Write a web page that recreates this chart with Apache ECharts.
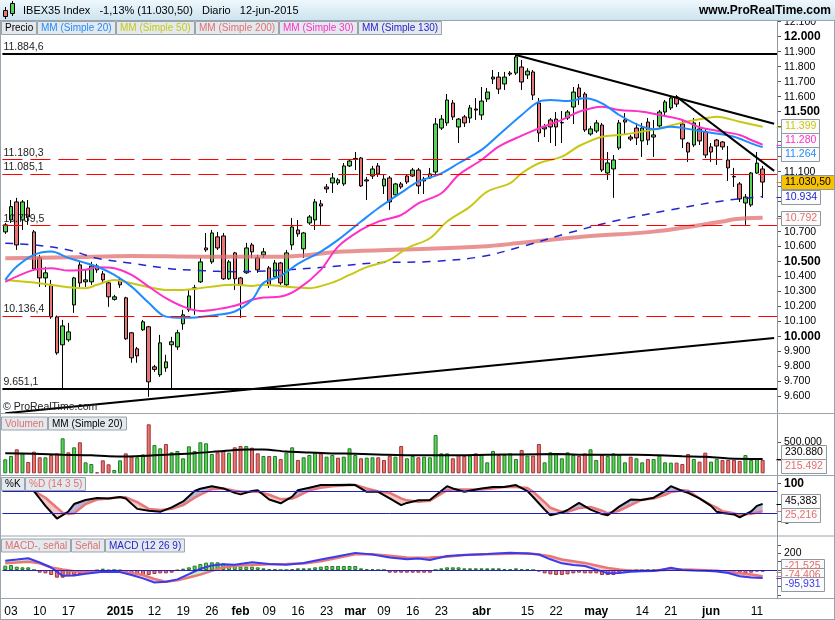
<!DOCTYPE html>
<html>
<head>
<meta charset="utf-8">
<script src="https://cdn.jsdelivr.net/npm/echarts@6/dist/echarts.min.js"></script>
<style>
  html, body { margin: 0; padding: 0; background: #fff; }
  #main { width: 835px; height: 620px; }
</style>
</head>
<body>
<div id="main"></div>
<script>
// trading days (two empty days at the end keep the right margin)
const dates = [
  '2014-12-02','2014-12-03','2014-12-04','2014-12-05','2014-12-08','2014-12-09','2014-12-10','2014-12-11','2014-12-12',
  '2014-12-15','2014-12-16','2014-12-17','2014-12-18','2014-12-19','2014-12-22','2014-12-23','2014-12-24','2014-12-29',
  '2014-12-30','2014-12-31',
  '2015-01-02','2015-01-05','2015-01-06','2015-01-07','2015-01-08','2015-01-09','2015-01-12','2015-01-13','2015-01-14',
  '2015-01-15','2015-01-16','2015-01-19','2015-01-20','2015-01-21','2015-01-22','2015-01-23','2015-01-26','2015-01-27',
  '2015-01-28','2015-01-29','2015-01-30',
  '2015-02-02','2015-02-03','2015-02-04','2015-02-05','2015-02-06','2015-02-09','2015-02-10','2015-02-11','2015-02-12',
  '2015-02-13','2015-02-16','2015-02-17','2015-02-18','2015-02-19','2015-02-20','2015-02-23','2015-02-24','2015-02-25',
  '2015-02-26','2015-02-27',
  '2015-03-02','2015-03-03','2015-03-04','2015-03-05','2015-03-06','2015-03-09','2015-03-10','2015-03-11','2015-03-12',
  '2015-03-13','2015-03-16','2015-03-17','2015-03-18','2015-03-19','2015-03-20','2015-03-23','2015-03-24','2015-03-25',
  '2015-03-26','2015-03-27','2015-03-30','2015-03-31',
  '2015-04-01','2015-04-02','2015-04-07','2015-04-08','2015-04-09','2015-04-10','2015-04-13','2015-04-14','2015-04-15',
  '2015-04-16','2015-04-17','2015-04-20','2015-04-21','2015-04-22','2015-04-23','2015-04-24','2015-04-27','2015-04-28',
  '2015-04-29','2015-04-30',
  '2015-05-04','2015-05-05','2015-05-06','2015-05-07','2015-05-08','2015-05-11','2015-05-12','2015-05-13','2015-05-14',
  '2015-05-15','2015-05-18','2015-05-19','2015-05-20','2015-05-21','2015-05-22','2015-05-25','2015-05-26','2015-05-27',
  '2015-05-28','2015-05-29',
  '2015-06-01','2015-06-02','2015-06-03','2015-06-04','2015-06-05','2015-06-08','2015-06-09','2015-06-10','2015-06-11',
  '2015-06-12','2015-06-15','2015-06-16'
];

const xLabelDates = ['2014-12-03','2014-12-10','2014-12-17','2015-01-02','2015-01-12','2015-01-19','2015-01-26',
  '2015-02-02','2015-02-09','2015-02-16','2015-02-23','2015-03-02','2015-03-09','2015-03-16','2015-03-23',
  '2015-04-01','2015-04-15','2015-04-22','2015-05-04','2015-05-14','2015-05-21','2015-06-01','2015-06-11'];
const xLabelTexts = ['03','10','17','2015','12','19','26','feb','09','16','23','mar','09','16','23',
  'abr','15','22','may','14','21','jun','11'];
const boldXLabels = ['2015','feb','mar','abr','may','jun'];

// [open, close, low, high]
const candles = [
  [10698,10745,10685,10758],[10778,10867,10758,10911],[10898,10611,10578,10925],[10778,10898,10711,10911],
  [10858,10798,10745,10911],[10698,10451,10438,10711],[10525,10391,10331,10545],[10391,10425,10331,10465],
  [10345,10131,10118,10378],[10131,9891,9878,10140],[9945,10071,9651,10111],[9978,10031,9965,10091],
  [10211,10391,10158,10398],[10478,10358,10331,10498],[10365,10378,10331,10445],[10365,10471,10345,10498],
  [10471,10445,10425,10485],[10418,10378,10358,10438],[10358,10265,10198,10365],[10248,10265,10240,10278],
  [10378,10345,10325,10398],[10258,9985,9978,10265],[10025,9858,9825,10031],[9918,9871,9825,9931],
  [10045,10098,10038,10111],[10065,9698,9598,10071],[9798,9781,9765,9811],[9745,9958,9731,10011],
  [9791,9831,9765,9878],[9945,9965,9645,9998],[9931,10025,9911,10045],[10085,10145,10045,10178],
  [10178,10271,10165,10311],[10318,10325,10145,10345],[10365,10498,10358,10525],[10591,10578,10565,10691],
  [10498,10691,10485,10711],[10665,10591,10578,10698],[10671,10385,10378,10691],[10385,10498,10378,10511],
  [10558,10385,10311,10565],[10391,10345,10125,10398],[10425,10591,10418,10625],[10611,10565,10525,10625],
  [10525,10445,10425,10545],[10545,10565,10525,10591],[10458,10345,10325,10471],[10398,10491,10385,10511],
  [10491,10358,10345,10498],[10345,10558,10331,10578],[10611,10731,10578,10791],[10711,10685,10665,10778],
  [10585,10691,10525,10698],[10758,10798,10745,10811],[10778,10898,10711,10918],[10885,10871,10745,10911],
  [10998,10985,10958,11018],[11025,11058,10958,11091],[11025,11045,11011,11058],[11018,11138,11005,11158],
  [11138,11171,11131,11185],[11185,11188,11111,11231],[11191,11005,10998,11198],[11045,11038,10911,11065],
  [11071,11118,11051,11138],[11138,11085,11065,11158],[11005,11051,10951,11078],[11058,10898,10845,11071],
  [10945,11018,10931,11025],[11018,10998,10985,11031],[11071,11031,11018,11078],[11071,11111,11065,11125],
  [11111,11005,10951,11125],[11038,11051,10951,11065],[11058,11085,11051,11125],[11098,11418,11085,11458],
  [11391,11451,11378,11478],[11425,11578,11405,11618],[11558,11465,11445,11578],[11398,11451,11291,11458],
  [11465,11425,11398,11478],[11458,11525,11425,11545],[11518,11511,11445,11591],[11478,11571,11445,11665],
  [11585,11631,11565,11658],[11718,11731,11685,11778],[11731,11651,11618,11765],[11685,11731,11645,11765],
  [11751,11758,11738,11771],[11758,11865,11745,11884.6],[11798,11698,11645,11845],[11745,11771,11718,11790],
  [11765,11611,11578,11778],[11558,11358,11298,11591],[11398,11385,11331,11418],[11445,11398,11291,11458],
  [11451,11398,11271,11498],[11425,11428,11291,11505],[11458,11498,11445,11511],[11531,11631,11418,11665],
  [11658,11598,11545,11685],[11618,11378,11365,11631],[11351,11385,11340,11405],[11371,11425,11358,11445],
  [11411,11111,11098,11425],[11091,11158,11045,11231],[11118,11178,10925,11211],[11258,11425,11245,11445],
  [11445,11431,11345,11491],[11331,11318,11305,11345],[11391,11325,11278,11425],[11305,11391,11198,11425],
  [11431,11311,11278,11458],[11331,11345,11198,11445],[11405,11498,11391,11511],[11498,11565,11478,11578],
  [11525,11591,11511,11605],[11598,11551,11531,11611],[11418,11318,11258,11445],[11291,11231,11165,11298],
  [11278,11425,11265,11458],[11385,11305,11278,11431],[11365,11211,11191,11391],[11265,11231,11165,11291],
  [11311,11271,11145,11318],[11298,11265,11245,11305],[11178,11125,11038,11271],[11065,11068,10998,11125],
  [11018,10918,10898,11031],[10891,10931,10745,10951],[10878,11091,10865,11098],[11091,11157,11085,11231],
  [11118,11030.5,10925,11138]
];

// moving averages: [index in dates] + value
const sma20Idx = [0,2,5,8,11,14,16,19,22,25,28,31,34,37,40,43,45,48,51,55,58,62,65,69,72,76,79,83,86,90,93,95,98,101,104,107,111,113,116,120,123,127,130,132];
const sma20Val = [10378,10467,10545,10567,10525,10491,10467,10411,10333,10225,10133,10125,10131,10145,10167,10245,10358,10405,10485,10567,10645,10767,10856,10960,11033,11089,11156,11245,11345,11478,11567,11578,11571,11589,11556,11478,11400,11383,11400,11378,11360,11333,11289,11264];
const sma30Idx = [0,5,8,11,14,16,19,22,25,28,31,34,37,40,43,45,48,51,55,58,62,65,69,72,76,79,83,86,90,93,97,100,104,107,111,114,118,121,124,128,130,132];
const sma30Val = [10365,10445,10456,10440,10445,10463,10456,10411,10333,10256,10200,10171,10183,10205,10245,10260,10267,10316,10445,10600,10711,10767,10811,10889,10956,11078,11178,11267,11340,11389,11445,11500,11533,11511,11500,11478,11445,11396,11373,11345,11311,11280];
const sma50Idx = [0,5,11,14,16,19,22,25,28,31,34,37,40,43,45,48,53,57,60,63,67,70,74,77,81,84,88,90,93,97,100,104,107,111,114,118,121,124,128,132];
const sma50Val = [10378,10360,10329,10323,10345,10378,10356,10329,10311,10311,10323,10338,10345,10338,10345,10336,10323,10360,10411,10463,10511,10589,10656,10767,10867,10967,11023,11089,11156,11200,11271,11333,11345,11367,11389,11427,11449,11467,11433,11399];
const sma200Idx = [0,11,22,34,48,59,71,83,90,101,113,125,127,132];
const sma200Val = [10522,10529,10538,10533,10533,10567,10583,10600,10625,10667,10700,10767,10783,10792];
const sma130Idx = [0,5,11,16,22,28,34,40,48,57,65,74,83,90,98,107,116,125,132];
const sma130Val = [10622,10611,10578,10522,10489,10456,10440,10433,10443,10467,10493,10500,10533,10600,10689,10778,10845,10905,10934];

// horizontal levels and trend lines
const blackLevels = [11884.6, 9651.1];
const redLevels = [11180.3, 11085.1, 10739.5, 10136.4];
const trendUp = [[0, 9488], [134, 9990]];
const trendDown1 = [[89, 11878], [134, 11420]];
const trendDown2 = [[117, 11600], [134, 11105]];

// volume (thousands)
const volume = [226,279,387,322,182,349,258,258,295,322,564,338,419,500,177,150,16,209,145,53,
  209,322,268,258,306,790,456,403,473,338,360,242,435,360,500,484,311,338,365,333,
  419,440,440,413,322,279,279,279,231,333,419,215,258,295,338,322,268,295,252,268,
  403,295,242,252,258,258,215,284,268,440,242,279,258,268,258,618,322,322,242,295,
  279,284,322,295,177,360,295,295,322,231,376,284,284,473,177,338,322,242,338,295,
  279,322,387,215,295,279,322,295,177,268,242,177,231,231,284,177,172,172,150,311,
  231,188,333,188,231,215,215,215,199,295,215,242,215.492];
const volMaIdx = [0,5,10,15,18,21,24,28,33,38,42,45,49,53,57,61,66,72,78,84,90,96,102,106,110,114,118,122,126,132];
const volMaVal = [322,315,300,290,275,270,280,300,325,360,385,385,350,335,320,315,300,290,290,300,305,310,300,300,300,290,275,265,240,230.88];

// stochastic %K / %D (14 3 5)
const stochIdx = [0,2,4,5,7,9,10,11,12,14,16,18,20,21,23,25,27,29,31,33,34,36,38,40,41,43,44,46,48,50,51,53,55,57,60,61,63,65,67,69,70,72,74,77,78,80,83,85,87,89,91,92,94,95,97,98,100,102,104,105,107,109,111,113,115,116,118,119,121,123,124,125,127,128,130,131,132];
const stochK = [92,95,85,80,40,6,15,25,45,56,61,60,64,60,32,27,24,36,52,80,86,93,87,75,71,80,82,57,47,65,82,89,96,96,97,96,78,78,60,42,48,55,56,93,87,78,87,91,91,96,80,64,30,15,22,29,48,30,18,15,38,57,56,62,80,93,80,75,60,40,24,21,17,9,25,40,45.383];
const stochD = [90,88,84,80,62,35,22,18,20,45,57,60,63,63,50,32,29,32,42,62,70,85,87,81,79,78,78,70,58,60,66,82,89,93,96,96,87,79,75,60,55,51,54,82,84,84,84,87,91,91,88,78,50,35,24,24,34,37,27,20,27,42,57,60,70,77,82,81,60,42,35,26,20,16,19,22,25.216];

// MACD (12 26 9)
const macdIdx = [0,2,4,6,8,10,12,14,17,20,22,24,26,28,30,32,34,36,38,40,43,46,49,52,55,58,61,64,67,70,72,74,77,80,84,88,91,93,95,97,99,101,103,105,107,109,111,113,115,116,118,120,122,124,126,128,130,132];
const macdVal = [112,125,140,90,30,-70,-65,-45,-20,-25,-60,-100,-150,-140,-112,-50,15,55,68,62,92,72,62,85,125,165,205,185,150,128,138,120,168,180,192,207,198,185,128,80,60,48,5,-40,-35,-20,-15,-12,12,28,0,-5,-8,-18,-35,-75,-90,-95.931];
const signalVal = [80,90,100,80,30,5,-15,-25,-20,-20,-35,-60,-108,-140,-122,-90,-55,-10,30,50,60,70,72,78,105,145,188,190,170,150,148,150,160,180,190,196,200,185,165,125,105,85,55,25,5,-8,-10,-8,0,8,6,2,-2,-10,-25,-40,-55,-74.406];
const macdHist = [52,60,40,32,32,0,-32,-40,-60,-92,-92,-72,-60,-48,-32,-24,-5,16,-5,0,
  -5,-32,-40,-52,-60,-60,-48,-40,-40,-32,-5,16,32,52,72,88,92,92,80,72,
  52,40,40,40,32,20,12,12,0,0,12,20,20,20,32,40,48,48,48,48,
  48,48,20,12,12,0,0,-32,-32,-32,-32,-32,-32,-32,-32,0,20,32,32,32,
  20,20,20,20,20,20,20,12,12,20,12,12,0,-20,-40,-52,-60,-60,-52,-40,
  -32,-40,-40,-40,-60,-60,-60,-32,-20,-8,0,0,4,8,12,20,20,12,0,-5,
  0,-5,-8,-8,-10,-12,-15,-20,-32,-40,-32,-20,-21.525];

const priceTicks = [9600,9700,9800,9900,10000,10100,10200,10300,10400,10500,10600,10700,10800,10900,11000,11100,11200,11300,11400,11500,11600,11700,11800,11900,12000,12100];
const boldPriceTicks = [10000, 10500, 11500, 12000];

const FONT = '"Liberation Sans", Arial, sans-serif';
const C = {
  up: '#55d455', down: '#e87676', upEdge: '#267a26', downEdge: '#a03434',
  sma20: '#1e8cff', sma50: '#c8c814', sma200: '#e07070', sma30: '#ff30c8', sma130: '#2424cc',
  salmon: '#e87878', blue: '#2222bb', frame: '#8e98a0'
};

function fmt(v, dec) {
  const s = Math.abs(v).toFixed(dec);
  const parts = s.split('.');
  const i = parts[0].replace(/\B(?=(\d{3})+(?!\d))/g, '.');
  return (v < 0 ? '-' : '') + i + (parts[1] ? ',' + parts[1] : '');
}
const last = a => a[a.length - 1];
const pairs = (idx, val) => idx.map((i, k) => [i, val[k]]);

const closes = candles.map(c => c[1]);
// volume colour: close against previous close
const volUp = closes.map((c, i) => i === 0 ? c >= candles[0][0] : c >= closes[i - 1]);

function barItem(v, up) {
  return { value: v, itemStyle: { color: up ? C.up : C.down, borderColor: up ? C.upEdge : C.downEdge, borderWidth: 1 } };
}

function maLine(idx, val, color, width, extra) {
  return Object.assign({
    type: 'line', xAxisIndex: 0, yAxisIndex: 0, data: pairs(idx, val), showSymbol: false,
    smooth: 0.35, silent: true, z: 4, lineStyle: { color: color, width: width }
  }, extra || {});
}

function trend(pts) {
  return { type: 'line', xAxisIndex: 0, yAxisIndex: 0, data: pts, showSymbol: false, silent: true, z: 6,
    lineStyle: { color: '#000', width: 2 } };
}

// coloured band between two lines
function band(idx, a, b, colA, colB, gi) {
  const data = [];
  for (let k = 0; k < idx.length - 1; k++) data.push([idx[k], a[k], b[k], idx[k + 1], a[k + 1], b[k + 1]]);
  return {
    type: 'custom', xAxisIndex: gi, yAxisIndex: gi, data: data, silent: true, z: 1,
    renderItem: function (params, api) {
      const pa0 = api.coord([api.value(0), api.value(1)]);
      const pb0 = api.coord([api.value(0), api.value(2)]);
      const pa1 = api.coord([api.value(3), api.value(4)]);
      const pb1 = api.coord([api.value(3), api.value(5)]);
      const d0 = api.value(1) - api.value(2), d1 = api.value(4) - api.value(5);
      if (d0 * d1 >= 0) {
        return { type: 'polygon', shape: { points: [pa0, pa1, pb1, pb0] },
          style: { fill: (d0 + d1) >= 0 ? colA : colB } };
      }
      const t = d0 / (d0 - d1);
      const pc = [pa0[0] + t * (pa1[0] - pa0[0]), pa0[1] + t * (pa1[1] - pa0[1])];
      return { type: 'group', children: [
        { type: 'polygon', shape: { points: [pa0, pc, pb0] }, style: { fill: d0 > 0 ? colA : colB } },
        { type: 'polygon', shape: { points: [pc, pa1, pb1] }, style: { fill: d1 > 0 ? colA : colB } }
      ] };
    }
  };
}

const gridDefs = [
  { top: 21, height: 392 },
  { top: 415, height: 58.3 },
  { top: 477, height: 57.5 },
  { top: 537.5, height: 61 }
];

const xAxes = gridDefs.map((g, gi) => ({
  type: 'category', gridIndex: gi, data: dates, boundaryGap: true,
  axisLine: { show: false }, axisTick: { show: false }, splitLine: { show: false },
  axisLabel: gi === 3 ? {
    interval: (i, v) => xLabelDates.indexOf(v) >= 0,
    formatter: v => {
      const t = xLabelTexts[xLabelDates.indexOf(v)];
      return boldXLabels.indexOf(t) >= 0 ? '{b|' + t + '}' : t;
    },
    color: '#000', fontSize: 12, fontFamily: FONT, margin: 7,
    rich: { b: { fontWeight: 'bold', fontSize: 12, fontFamily: FONT, color: '#000' } }
  } : { show: false }
}));

const axisCommon = {
  position: 'right', scale: false,
  axisLine: { show: true, lineStyle: { color: C.frame } },
  splitLine: { show: false }
};
const labelCommon = { color: '#000', fontSize: 10.5, fontFamily: FONT, margin: 7,
  rich: { b: { fontWeight: 'bold', fontSize: 12, fontFamily: FONT, color: '#000' } } };

const yAxes = [
  Object.assign({}, axisCommon, {
    gridIndex: 0, min: 9490, max: 12105,
    axisTick: { show: true, length: 4, customValues: priceTicks, lineStyle: { color: '#555' } },
    axisLabel: Object.assign({}, labelCommon, { customValues: priceTicks,
      formatter: v => boldPriceTicks.indexOf(v) >= 0 ? '{b|' + fmt(v, 0) + '}' : fmt(v, 0) })
  }),
  Object.assign({}, axisCommon, {
    gridIndex: 1, min: 0, max: 940,
    axisTick: { show: true, length: 4, customValues: [500], lineStyle: { color: '#555' } },
    axisLabel: Object.assign({}, labelCommon, { customValues: [500], formatter: v => fmt(v * 1000, 0) })
  }),
  Object.assign({}, axisCommon, {
    gridIndex: 2, min: -36.9, max: 117.7,
    axisTick: { show: true, length: 4, customValues: [0, 100], lineStyle: { color: '#555' } },
    axisLabel: Object.assign({}, labelCommon, { customValues: [0, 100],
      formatter: v => v === 100 ? '{b|100}' : String(v) })
  }),
  Object.assign({}, axisCommon, {
    gridIndex: 3, min: -341, max: 389,
    axisTick: { show: true, length: 4, customValues: [-300, -200, -100, 0, 100, 200, 300], lineStyle: { color: '#555' } },
    axisLabel: Object.assign({}, labelCommon, { customValues: [200], formatter: v => String(v) })
  })
];

const levelLines = blackLevels.map(v => ({ yAxis: v, lineStyle: { color: '#000', width: 2, type: 'solid' },
    label: { formatter: fmt(v, 1) } }))
  .concat(redLevels.map(v => ({ yAxis: v, lineStyle: { color: '#ff0000', width: 1, type: [20, 8] },
    label: { formatter: fmt(v, 1) } })));

const option = {
  animation: false,
  backgroundColor: '#fff',
  grid: gridDefs.map(g => ({ left: 2.4, right: 58, top: g.top, height: g.height })),
  xAxis: xAxes,
  yAxis: yAxes,
  series: [
    maLine(sma200Idx, sma200Val, C.sma200, 4, { lineStyle: { color: C.sma200, width: 4, opacity: 0.75 }, z: 3 }),
    maLine(sma130Idx, sma130Val, C.sma130, 1.5, { lineStyle: { color: C.sma130, width: 1.5, type: [8, 7] }, z: 3 }),
    {
      type: 'candlestick', xAxisIndex: 0, yAxisIndex: 0, data: candles, barWidth: '70%', silent: true, z: 2,
      itemStyle: { color: C.up, color0: C.down, borderColor: '#000', borderColor0: '#000', borderWidth: 1 },
      markLine: {
        silent: true, symbol: 'none', animation: false, data: levelLines,
        label: { show: true, position: 'insideStartTop', distance: 1, color: '#222', fontSize: 10.5, fontFamily: FONT }
      }
    },
    maLine(sma50Idx, sma50Val, C.sma50, 2),
    maLine(sma30Idx, sma30Val, C.sma30, 2),
    maLine(sma20Idx, sma20Val, C.sma20, 2),
    trend(trendUp), trend(trendDown1), trend(trendDown2),

    {
      type: 'bar', xAxisIndex: 1, yAxisIndex: 1, barWidth: 4, silent: true,
      data: volume.map((v, i) => barItem(v, volUp[i]))
    },
    { type: 'line', xAxisIndex: 1, yAxisIndex: 1, data: pairs(volMaIdx, volMaVal), showSymbol: false,
      smooth: 0.3, silent: true, z: 4, lineStyle: { color: '#000', width: 2 } },

    band(stochIdx, stochK, stochD, '#b4b4dc', '#f5c6c6', 2),
    { type: 'line', xAxisIndex: 2, yAxisIndex: 2, data: pairs(stochIdx, stochD), showSymbol: false, silent: true,
      z: 3, lineStyle: { color: C.salmon, width: 2.5 } },
    { type: 'line', xAxisIndex: 2, yAxisIndex: 2, data: pairs(stochIdx, stochK), showSymbol: false, silent: true,
      z: 4, lineStyle: { color: '#000', width: 2 },
      markLine: { silent: true, symbol: 'none', label: { show: false },
        lineStyle: { color: C.blue, width: 1, type: 'solid' }, data: [{ yAxis: 80 }, { yAxis: 20 }] } },

    {
      type: 'bar', xAxisIndex: 3, yAxisIndex: 3, barWidth: 4, silent: true, z: 2,
      data: macdHist.map(v => barItem(v, v >= 0)),
      markLine: { silent: true, symbol: 'none', label: { show: false }, z: 5,
        lineStyle: { color: C.blue, width: 1, type: 'solid' }, data: [{ yAxis: 0 }] }
    },
    band(macdIdx, macdVal, signalVal, '#bcefbc', '#f5c6c6', 3),
    { type: 'line', xAxisIndex: 3, yAxisIndex: 3, data: pairs(macdIdx, signalVal), showSymbol: false, silent: true,
      z: 3, lineStyle: { color: C.salmon, width: 2.5 } },
    { type: 'line', xAxisIndex: 3, yAxisIndex: 3, data: pairs(macdIdx, macdVal), showSymbol: false, silent: true,
      z: 4, lineStyle: { color: '#3a3aee', width: 2 } }
  ]
};

const chart = echarts.init(document.getElementById('main'));
chart.setOption(option);

// ---------- overlays: header, frame, legend tags, value boxes ----------
const mctx = document.createElement('canvas').getContext('2d');
function tw(text, font) { mctx.font = font; return mctx.measureText(text).width; }

function txt(x, y, text, fill, font, align) {
  return { type: 'text', x: x, y: y, z: 101, silent: true,
    style: { text: text, fill: fill, font: font, align: align || 'left', verticalAlign: 'middle',
      textAlign: align || 'left', textVerticalAlign: 'middle' } };
}
function hline(x1, x2, y, color, w) {
  return { type: 'line', z: 99, silent: true, shape: { x1: x1, y1: y, x2: x2, y2: y }, style: { stroke: color, lineWidth: w || 1 } };
}
function vline(x, y1, y2, color, w) {
  return { type: 'line', z: 99, silent: true, shape: { x1: x, y1: y1, x2: x, y2: y2 }, style: { stroke: color, lineWidth: w || 1 } };
}

function tags(list, y) {
  const out = [];
  let x = 1.5;
  const font = '10px ' + FONT;
  list.forEach(t => {
    const w = Math.round(tw(t[0], font)) + 7;
    out.push({ type: 'rect', z: 100, silent: true, shape: { x: x, y: y + 0.5, width: w, height: 13 },
      style: { fill: '#e4e9ee', stroke: '#9aa4ac', lineWidth: 1 } });
    out.push(txt(x + 3.5, y + 7.5, t[0], t[1], font));
    x += w + 1;
  });
  return out;
}

function spread(items, spacing) {
  items.sort((a, b) => a.y - b.y);
  let groups = items.map(o => ({ items: [o], center: o.y }));
  let merged = true;
  while (merged) {
    merged = false;
    for (let g = 0; g < groups.length - 1; g++) {
      const A = groups[g], B = groups[g + 1];
      const aBottom = A.center + (A.items.length - 1) * spacing / 2;
      const bTop = B.center - (B.items.length - 1) * spacing / 2;
      if (bTop - aBottom < spacing) {
        const its = A.items.concat(B.items);
        const c = its.reduce((s, o) => s + o.y, 0) / its.length;
        groups.splice(g, 2, { items: its, center: c });
        merged = true;
        break;
      }
    }
  }
  groups.forEach(G => G.items.forEach((o, k) => { o.py = G.center + (k - (G.items.length - 1) / 2) * spacing; }));
  return items;
}

function boxes(gi, list, spacing) {
  const font = '10.5px ' + FONT;
  const items = spread(list.map(o => Object.assign({}, o, { y: chart.convertToPixel({ yAxisIndex: gi }, o.v) })), spacing);
  const out = [];
  items.forEach(o => {
    const w = Math.round(tw(o.text, font)) + 7;
    out.push(hline(776.5, 781, Math.round(o.y) + 0.5, o.color, 1));
    out.push({ type: 'rect', z: 100, silent: true, shape: { x: 781.5, y: Math.round(o.py - 7) + 0.5, width: w, height: 14 },
      style: { fill: o.bg || '#fbfbfb', stroke: '#8e98a0', lineWidth: 1 } });
    out.push(txt(785, Math.round(o.py) + 0.5, o.text, o.tcolor || o.color, font));
  });
  return out;
}

const lastClose = last(candles)[1];
const graphics = [].concat(
  [
    { type: 'rect', z: 98, silent: true, shape: { x: 0, y: 0, width: 835, height: 20 },
      style: { fill: { type: 'linear', x: 0, y: 0, x2: 0, y2: 1,
        colorStops: [{ offset: 0, color: '#eef7fc' }, { offset: 1, color: '#cde4f0' }] } } },
    hline(0, 835, 20.5, '#9aa4ac'),
    // candle icon
    vline(5.5, 7, 19, '#000'), { type: 'rect', z: 100, silent: true, shape: { x: 3.5, y: 10.5, width: 4, height: 6 },
      style: { fill: C.down, stroke: '#000', lineWidth: 1 } },
    vline(12.5, 1, 16, '#000'), { type: 'rect', z: 100, silent: true, shape: { x: 10.5, y: 3.5, width: 4, height: 10 },
      style: { fill: C.up, stroke: '#000', lineWidth: 1 } },
    txt(23, 11, 'IBEX35 Index   ' + (-1.13).toFixed(2).replace('.', ',') + '% (' + fmt(lastClose, 2) + ')   Diario   12-jun-2015',
      '#000', '11px ' + FONT),
    txt(831, 11, 'www.ProRealTime.com', '#000', 'bold 12px ' + FONT, 'right'),
    // frame
    vline(0.5, 20, 620, '#9aa4ac'), vline(834.5, 20, 620, '#9aa4ac'),
    vline(777.5, 20, 599, C.frame),
    hline(0, 835, 413.5, '#9aa4ac'), hline(0, 835, 475.5, '#9aa4ac'),
    hline(0, 835, 536, '#9aa4ac'), hline(0, 835, 598.5, '#9aa4ac'), hline(0, 835, 619.5, '#9aa4ac'),
    txt(3, 407, '\u00a9 ProRealTime.com', '#222', '10.5px ' + FONT)
  ],
  tags([['Precio', '#000'], ['MM (Simple 20)', C.sma20], ['MM (Simple 50)', C.sma50], ['MM (Simple 200)', C.sma200],
        ['MM (Simple 30)', C.sma30], ['MM (Simple 130)', C.sma130]], 21),
  tags([['Volumen', C.sma200], ['MM (Simple 20)', '#000']], 416.5),
  tags([['%K', '#000'], ['%D (14 3 5)', C.sma200]], 477),
  tags([['MACD-, se\u00f1al', C.sma200], ['Se\u00f1al', C.sma200], ['MACD (12 26 9)', C.sma130]], 538.5),
  boxes(0, [
    { v: last(sma50Val), text: fmt(last(sma50Val), 0), color: C.sma50 },
    { v: last(sma30Val), text: fmt(last(sma30Val), 0), color: C.sma30 },
    { v: last(sma20Val), text: fmt(last(sma20Val), 0), color: C.sma20 },
    { v: lastClose, text: fmt(lastClose, 2), color: '#d09000', tcolor: '#000', bg: '#f8c200' },
    { v: last(sma130Val), text: fmt(last(sma130Val), 0), color: C.sma130 },
    { v: last(sma200Val), text: fmt(last(sma200Val), 0), color: C.sma200 }
  ], 14),
  boxes(1, [
    { v: last(volMaVal), text: fmt(last(volMaVal) * 1000, 0), color: '#000' },
    { v: last(volume), text: fmt(last(volume) * 1000, 0), color: C.sma200 }
  ], 14),
  boxes(2, [
    { v: last(stochK), text: fmt(last(stochK), 3), color: '#000' },
    { v: last(stochD), text: fmt(last(stochD), 3), color: C.sma200 }
  ], 14),
  boxes(3, [
    { v: last(macdHist), text: fmt(last(macdHist), 3), color: C.sma200 },
    { v: last(signalVal), text: fmt(last(signalVal), 3), color: C.sma200 },
    { v: last(macdVal), text: fmt(last(macdVal), 3), color: '#3a3aee' }
  ], 9)
);

chart.setOption({ graphic: graphics });
</script>
</body>
</html>
